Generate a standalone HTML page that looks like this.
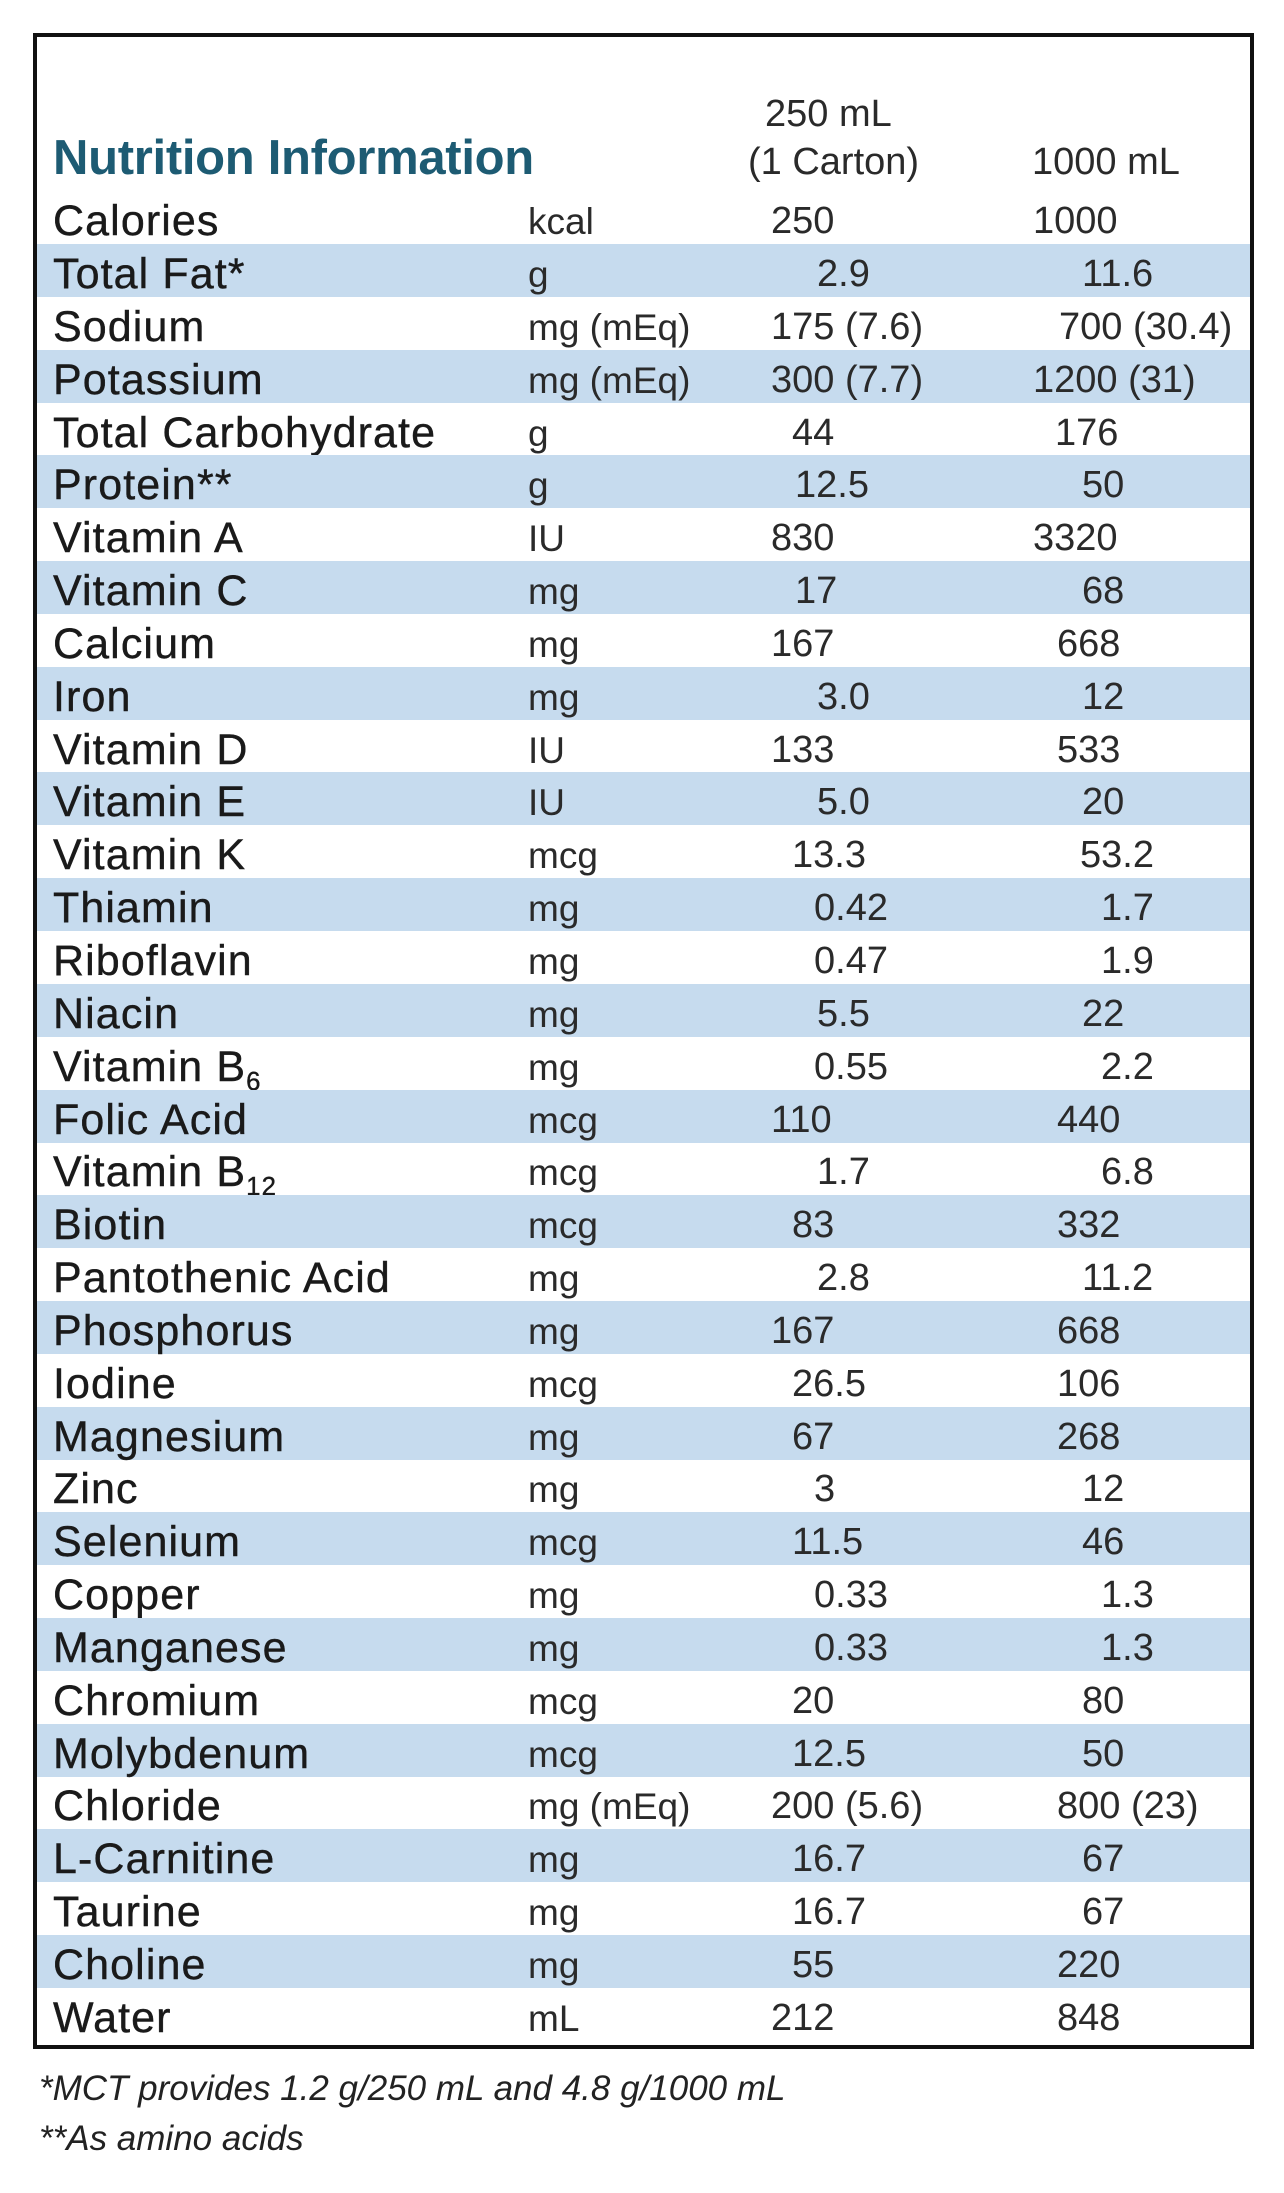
<!DOCTYPE html>
<html><head><meta charset="utf-8">
<style>
html,body{margin:0;padding:0;background:#fff;}
body{width:1284px;height:2193px;position:relative;overflow:hidden;font-family:"Liberation Sans",sans-serif;}
.box{position:absolute;left:33px;top:33px;width:1213px;height:2008px;border:4px solid #111;box-sizing:content-box;}
.band{position:absolute;left:37px;width:1213px;height:53px;background:#c6dbee;}
.t{position:absolute;white-space:nowrap;line-height:1;}
.n{font-size:43px;color:#1a1a1a;letter-spacing:1.1px;-webkit-text-stroke:0.4px #1a1a1a;}
.u{font-size:37px;color:#2a2a2a;}
.v{font-size:38px;color:#2a2a2a;}
.title{font-size:49px;font-weight:bold;color:#1d5b73;letter-spacing:-0.3px;}
.foot{font-size:35px;font-style:italic;color:#222;}
sub{font-size:60%;vertical-align:-0.35em;line-height:0;}
</style></head><body>
<div class="box"></div>
<div id="c"></div>
<div class="t title" style="left:53px;top:134px;">Nutrition Information</div>
<div class="t v" style="left:765px;top:95px;">250 mL</div>
<div class="t v" style="left:748px;top:143px;">(1 Carton)</div>
<div class="t v" style="left:1032px;top:143px;">1000 mL</div>
<div class="t foot" style="left:39px;top:2071px;">*MCT provides 1.2 g/250 mL and 4.8 g/1000 mL</div>
<div class="t foot" style="left:39px;top:2121px;">**As amino acids</div>
<script>
var rows=[
["Calories","kcal","250","1000",553,741],
["Total Fat*","g","2.9","11.6",586,776],
["Sodium","mg (mEq)","175 (7.6)","700 (30.4)",553,760],
["Potassium","mg (mEq)","300 (7.7)","1200 (31)",553,741],
["Total Carbohydrate","g","44","176",568,757],
["Protein**","g","12.5","50",570,776],
["Vitamin A","IU","830","3320",553,741],
["Vitamin C","mg","17","68",570,776],
["Calcium","mg","167","668",553,758],
["Iron","mg","3.0","12",586,776],
["Vitamin D","IU","133","533",553,758],
["Vitamin E","IU","5.0","20",586,776],
["Vitamin K","mcg","13.3","53.2",568,775],
["Thiamin","mg","0.42","1.7",584,790],
["Riboflavin","mg","0.47","1.9",584,790],
["Niacin","mg","5.5","22",586,776],
["Vitamin B<sub>6</sub>","mg","0.55","2.2",584,790],
["Folic Acid","mcg","110","440",553,758],
["Vitamin B<sub>12</sub>","mcg","1.7","6.8",586,790],
["Biotin","mcg","83","332",568,758],
["Pantothenic Acid","mg","2.8","11.2",586,776],
["Phosphorus","mg","167","668",553,758],
["Iodine","mcg","26.5","106",568,758],
["Magnesium","mg","67","268",568,758],
["Zinc","mg","3","12",584,776],
["Selenium","mcg","11.5","46",568,776],
["Copper","mg","0.33","1.3",584,790],
["Manganese","mg","0.33","1.3",584,790],
["Chromium","mcg","20","80",568,776],
["Molybdenum","mcg","12.5","50",568,776],
["Chloride","mg (mEq)","200 (5.6)","800 (23)",553,758],
["L-Carnitine","mg","16.7","67",568,776],
["Taurine","mg","16.7","67",568,776],
["Choline","mg","55","220",568,758],
["Water","mL","212","848",553,758]];
var h="",RH=52.84,Y0=191.2,S=1.394;
rows.forEach(function(r,i){
 var y=Y0+i*RH;
 if(i%2==1) h+='<div class="band" style="top:'+y.toFixed(1)+'px"></div>';
 h+='<div class="t n" style="left:53px;top:'+(y+9).toFixed(1)+'px">'+r[0]+'</div>';
 h+='<div class="t u" style="left:528px;top:'+(y+12).toFixed(1)+'px">'+r[1]+'</div>';
 h+='<div class="t v" style="left:'+(r[4]*S).toFixed(0)+'px;top:'+(y+11).toFixed(1)+'px">'+r[2]+'</div>';
 h+='<div class="t v" style="left:'+(r[5]*S).toFixed(0)+'px;top:'+(y+11).toFixed(1)+'px">'+r[3]+'</div>';
});
document.getElementById("c").innerHTML=h;
</script>
</body></html>
